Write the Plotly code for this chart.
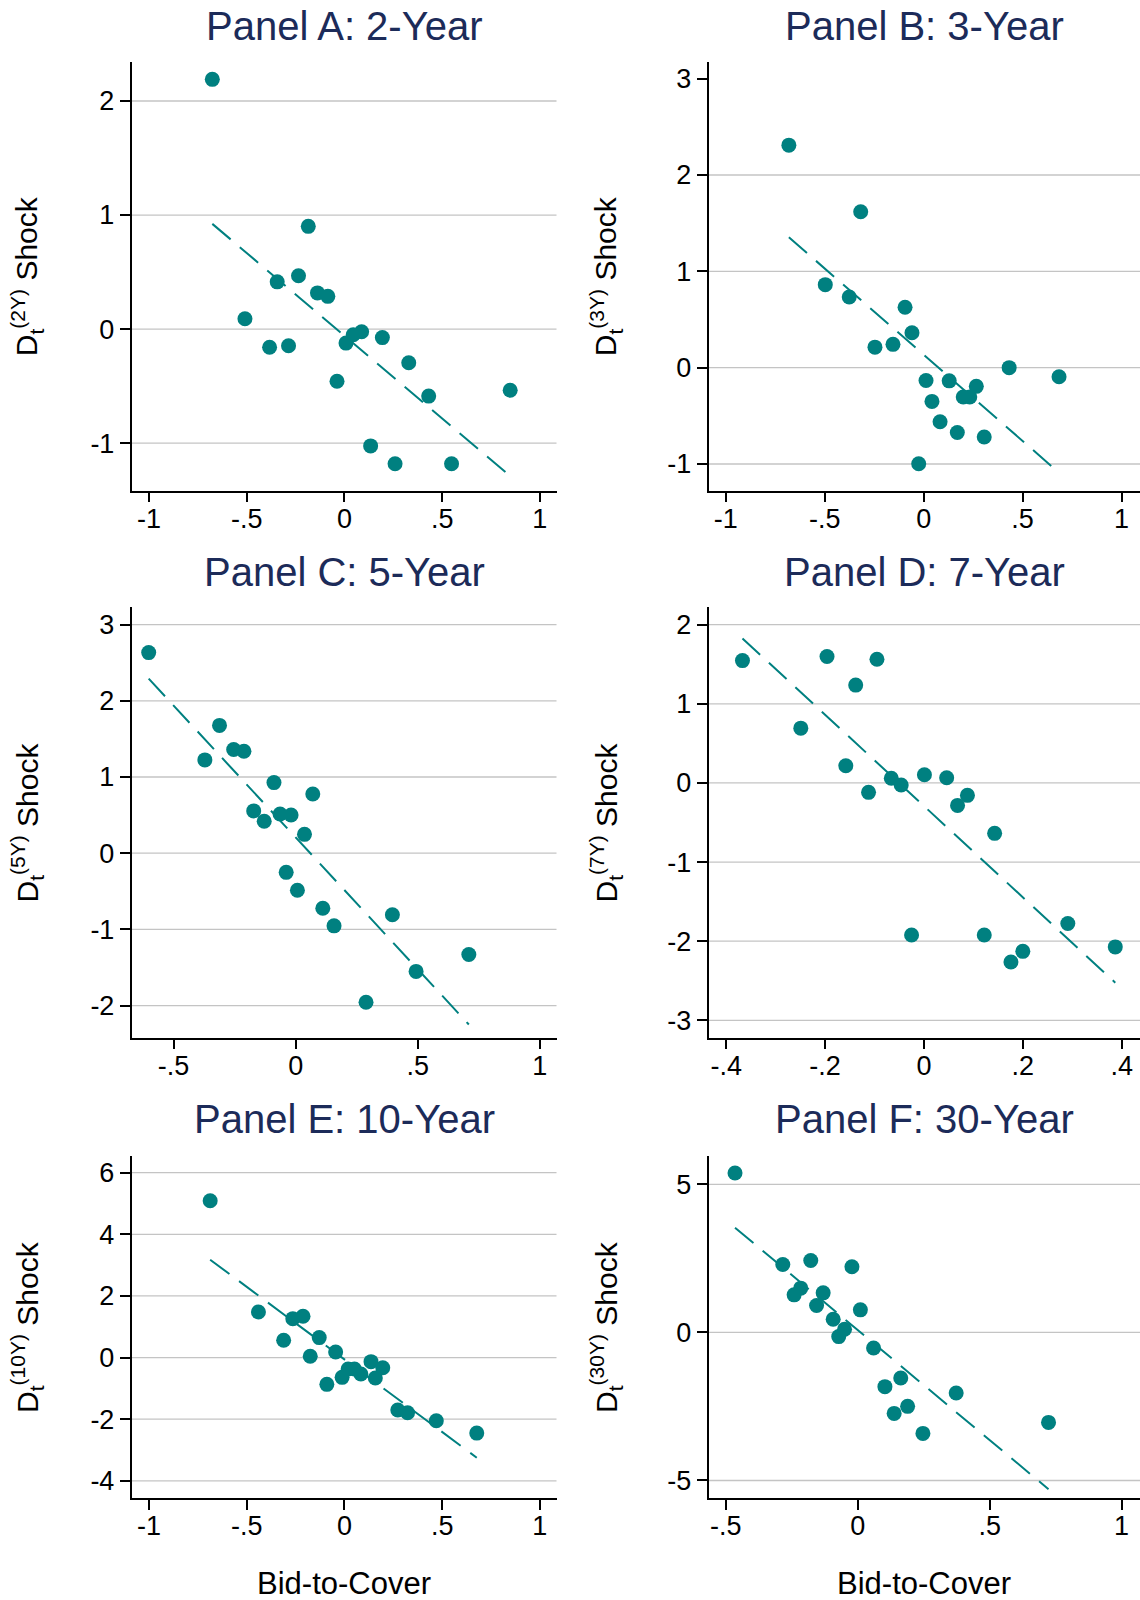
import numpy as np
import plotly.graph_objects as go

# ---- data: bid-to-cover surprise vs. demand shock, by tenor ----
A_x = [-0.676, -0.185, -0.235, -0.344, -0.138, -0.085, -0.509, -0.383, -0.286, 0.008,
       0.045, 0.088, 0.194, -0.038, 0.329, 0.431, 0.848, 0.134, 0.259, 0.548]
A_y = [2.19, 0.901, 0.468, 0.414, 0.317, 0.287, 0.091, -0.159, -0.147, -0.123,
       -0.05, -0.023, -0.075, -0.458, -0.295, -0.588, -0.537, -1.025, -1.182, -1.182]

B_x = [-0.681, -0.318, -0.497, -0.376, -0.094, -0.059, -0.246, -0.155, 0.012, 0.129,
       0.266, 0.042, 0.200, 0.233, 0.083, 0.170, 0.306, -0.025, 0.432, 0.684]
B_y = [2.31, 1.618, 0.862, 0.734, 0.627, 0.363, 0.213, 0.242, -0.133, -0.137,
       -0.194, -0.35, -0.304, -0.304, -0.562, -0.673, -0.72, -0.998, 0.0, -0.094]

C_x = [-0.602, -0.312, -0.372, -0.254, -0.212, -0.089, 0.070, -0.172, -0.129, -0.064,
       -0.019, 0.036, -0.039, 0.007, 0.111, 0.157, 0.396, 0.493, 0.709, 0.288]
C_y = [2.633, 1.677, 1.224, 1.36, 1.338, 0.926, 0.777, 0.555, 0.419, 0.514,
       0.5, 0.247, -0.252, -0.487, -0.723, -0.954, -0.809, -1.552, -1.33, -1.956]

D_x = [-0.367, -0.196, -0.095, -0.138, -0.249, -0.158, -0.112, -0.066, -0.046, 0.001,
       0.046, 0.068, 0.088, 0.143, -0.025, 0.122, 0.176, 0.200, 0.291, 0.387]
D_y = [1.546, 1.598, 1.563, 1.236, 0.692, 0.217, -0.119, 0.06, -0.027, 0.104,
       0.065, -0.284, -0.157, -0.637, -1.922, -1.922, -2.262, -2.128, -1.776, -2.072]

E_x = [-0.687, -0.44, -0.264, -0.212, -0.311, -0.129, -0.175, -0.045, -0.09, -0.012,
       0.019, 0.051, 0.084, 0.136, 0.196, 0.158, 0.273, 0.323, 0.47, 0.677]
E_y = [5.09, 1.48, 1.263, 1.339, 0.561, 0.648, 0.041, 0.182, -0.869, -0.642,
       -0.371, -0.371, -0.534, -0.133, -0.329, -0.663, -1.703, -1.79, -2.05, -2.451]

F_x = [-0.465, -0.284, -0.178, -0.022, -0.241, -0.216, -0.131, -0.156, 0.010, -0.093,
       -0.05, -0.072, 0.06, 0.103, 0.163, 0.138, 0.189, 0.247, 0.373, 0.723]
F_y = [5.383, 2.294, 2.43, 2.215, 1.268, 1.494, 1.336, 0.907, 0.761, 0.445,
       0.107, -0.141, -0.524, -1.832, -1.539, -2.734, -2.497, -3.41, -2.046, -3.038]

titles = ["Panel A: 2-Year", "Panel B: 3-Year", "Panel C: 5-Year",
          "Panel D: 7-Year", "Panel E: 10-Year", "Panel F: 30-Year"]
tenors = ["2Y", "3Y", "5Y", "7Y", "10Y", "30Y"]
x_label = "Bid-to-Cover"

x_ticks = [[-1, -0.5, 0, 0.5, 1], [-1, -0.5, 0, 0.5, 1], [-0.5, 0, 0.5, 1],
           [-0.4, -0.2, 0, 0.2, 0.4], [-1, -0.5, 0, 0.5, 1], [-0.5, 0, 0.5, 1]]
x_tick_text = [["-1", "-.5", "0", ".5", "1"], ["-1", "-.5", "0", ".5", "1"],
               ["-.5", "0", ".5", "1"], ["-.4", "-.2", "0", ".2", ".4"],
               ["-1", "-.5", "0", ".5", "1"], ["-.5", "0", ".5", "1"]]
y_ticks = [[-1, 0, 1, 2], [-1, 0, 1, 2, 3], [-2, -1, 0, 1, 2, 3],
           [-3, -2, -1, 0, 1, 2], [-4, -2, 0, 2, 4, 6], [-5, 0, 5]]
y_grid = [[-1, 0, 1, 2], [-1, 0, 1, 2], [-2, -1, 0, 1, 2, 3],
          [-3, -2, -1, 0, 1, 2], [-4, -2, 0, 2, 4, 6], [-5, 0, 5]]

xs = [A_x, B_x, C_x, D_x, E_x, F_x]
ys = [A_y, B_y, C_y, D_y, E_y, F_y]

# ---- page geometry (pixels) ----
W, H = 1140, 1600
x_ranges = [[-1.089, 1.085], [-1.087, 1.093], [-0.672, 1.068],
            [-0.4357, 0.437], [-1.089, 1.085], [-0.5655, 1.0696]]
y_ranges = [[-1.416, 2.344], [-1.275, 3.175], [-2.421, 3.226],
            [-3.218, 2.218], [-4.563, 6.553], [-5.598, 5.97]]
col_px = [(131.6, 556.5), (708.5, 1140.0)]
row_px = [(61.8, 490.5), (607.4, 1037.6), (1155.6, 1498.2)]
title_y_px = [26.0, 572.0, 1118.5]
ytitle_x_px = [27.0, 606.0]
xtitle_y_px = 1583.0

TEAL = "#008080"
NAVY = "#1c2b59"
FONT = "Liberation Sans, Arial, sans-serif"

fig = go.Figure()
shapes = []
annotations = []

for i in range(6):
    r, c = divmod(i, 2)
    n = "" if i == 0 else str(i + 1)
    xa, ya = "x" + n, "y" + n
    x0, x1 = col_px[c]
    t0, t1 = row_px[r]
    xdom = [x0 / W, x1 / W]
    ydom = [1 - t1 / H, 1 - t0 / H]

    x = np.array(xs[i])
    y = np.array(ys[i])
    slope, intercept = np.polyfit(x, y, 1)
    fx = np.array([x.min(), x.max()])
    fy = intercept + slope * fx

    fig.add_trace(go.Scatter(x=x, y=y, mode="markers", xaxis=xa, yaxis=ya,
                             marker=dict(size=15, color=TEAL, line=dict(width=0)),
                             showlegend=False, hoverinfo="skip"))
    fig.add_trace(go.Scatter(x=fx, y=fy, mode="lines", xaxis=xa, yaxis=ya,
                             line=dict(color=TEAL, width=2, dash="24px,12px"),
                             showlegend=False, hoverinfo="skip"))

    axis_common = dict(showgrid=False, zeroline=False, showline=True,
                       linecolor="black", linewidth=1.6, ticks="outside",
                       ticklen=10, tickwidth=1.5, tickcolor="black",
                       tickfont=dict(family=FONT, size=27, color="black"))
    fig.update_layout(**{
        ("xaxis" + n): dict(domain=xdom, range=x_ranges[i], anchor=ya,
                            tickvals=x_ticks[i], ticktext=x_tick_text[i],
                            ticklabelstandoff=-7, **axis_common),
        ("yaxis" + n): dict(domain=ydom, range=y_ranges[i], anchor=xa,
                            tickvals=y_ticks[i],
                            ticktext=[str(v) for v in y_ticks[i]],
                            **axis_common),
    })

    for g in y_grid[i]:
        shapes.append(dict(type="line", xref=xa + " domain", yref=ya,
                           x0=0, x1=1, y0=g, y1=g, layer="below",
                           line=dict(color="#c4c4c4", width=1.3)))

    annotations.append(dict(text=titles[i], x=(x0 + x1) / 2 / W,
                            y=1 - title_y_px[r] / H, xref="paper", yref="paper",
                            xanchor="center", yanchor="middle", showarrow=False,
                            font=dict(family=FONT, size=40, color=NAVY)))
    annotations.append(dict(text="D<sub>t</sub><sup>(" + tenors[i] + ")</sup> Shock",
                            x=ytitle_x_px[c] / W, y=1 - (t0 + t1) / 2 / H,
                            xref="paper", yref="paper", textangle=-90,
                            xanchor="center", yanchor="middle", showarrow=False,
                            font=dict(family=FONT, size=30, color="black")))
    if r == 2:
        annotations.append(dict(text=x_label, x=(x0 + x1) / 2 / W,
                                y=1 - xtitle_y_px / H, xref="paper", yref="paper",
                                xanchor="center", yanchor="middle", showarrow=False,
                                font=dict(family=FONT, size=31, color="black")))

fig.update_layout(width=W, height=H, margin=dict(l=0, r=0, t=0, b=0),
                  paper_bgcolor="white", plot_bgcolor="white",
                  shapes=shapes, annotations=annotations,
                  font=dict(family=FONT))

fig.write_html("out.html")
